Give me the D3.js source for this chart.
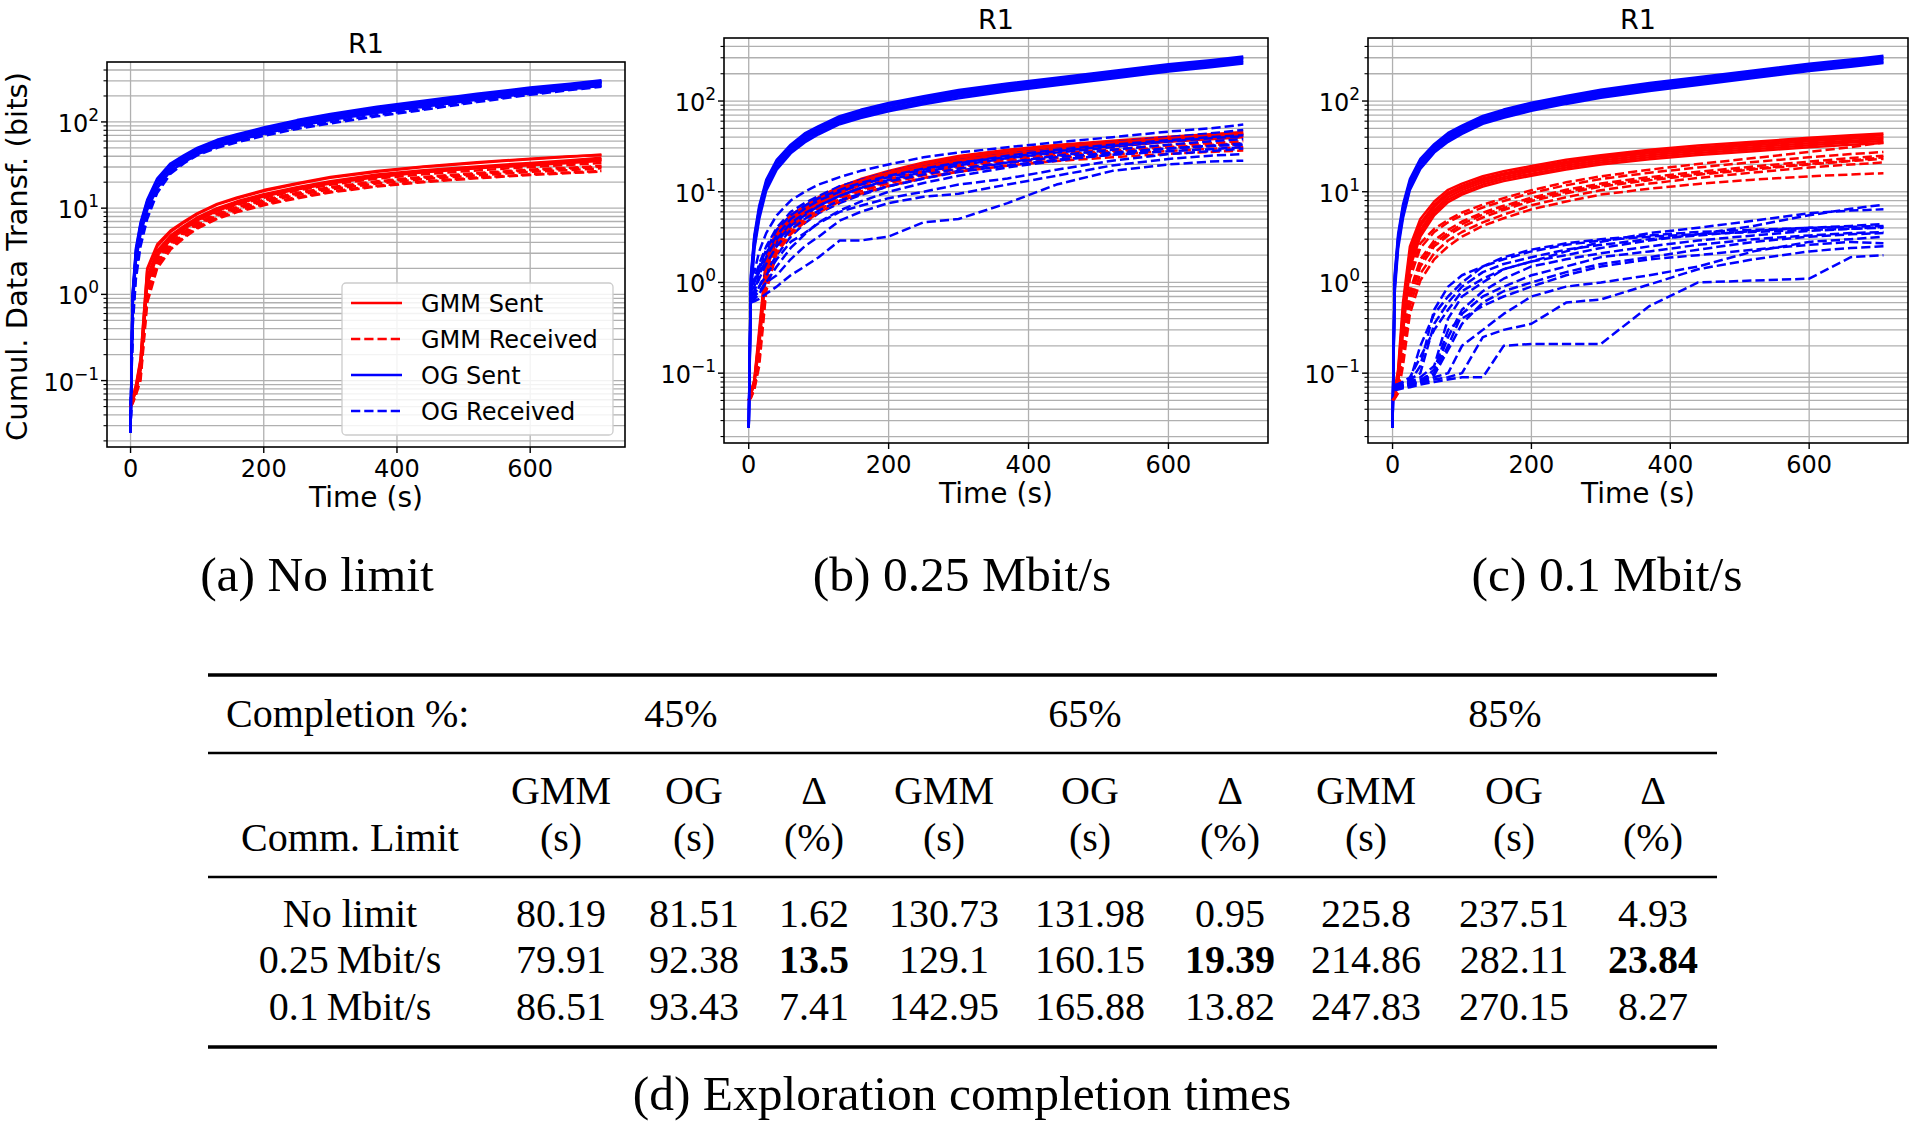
<!DOCTYPE html>
<html>
<head>
<meta charset="utf-8">
<script src="https://cdn.jsdelivr.net/npm/d3@7"></script>
<style>
  body { margin: 0; background: #fff; }
  svg { display: block; }
  .mpl { font-family: "DejaVu Sans", sans-serif; fill: #000; }
  .tex { font-family: "Liberation Serif", "Times New Roman", serif; fill: #000; }
</style>
</head>
<body>
<svg id="fig" width="1920" height="1132"></svg>
<script>
// Shared time grid (s) for every run
const TIME = [0, 3, 8, 15, 25, 40, 60, 80, 100, 130, 160, 200, 250, 300, 370, 440, 520, 600, 660, 707];

// ---- (a) No limit ----
const A_GMM_SENT = [
  [0.05,0.062,0.085,0.17,1.9,3.6,5.3,6.8,8.5,11,13,15.8,19,22.5,26.5,30,33.5,37,39.5,42],
  [0.05,0.06,0.08,0.15,1.6,3.2,4.8,6.2,7.8,10,12,14.5,17.5,20.5,24.5,27.5,30.5,33.5,36,38.5],
  [0.05,0.058,0.075,0.13,1.3,2.8,4.3,5.7,7.2,9.3,11.2,13.6,16.5,19.3,23,26,29,31.5,33.5,35.5],
  [0.05,0.06,0.078,0.14,1.45,3.0,4.6,6.0,7.5,9.7,11.6,14,17,20,23.8,26.8,29.8,32.5,34.8,37],
  [0.05,0.063,0.088,0.18,2.0,3.8,5.5,7.0,8.7,11.2,13.3,16.2,19.5,23,27,30.5,34,37.5,40,41],
  [0.05,0.059,0.077,0.14,1.4,2.9,4.4,5.8,7.3,9.5,11.4,13.8,16.8,19.8,23.3,26.3,29.3,32,34,36.5]
];
const A_GMM_RECV = [
  [0.05,0.058,0.075,0.13,1.2,2.6,4.0,5.3,6.7,8.6,10.3,12.5,15,17.5,20.5,23,25.5,28,29.5,31],
  [0.05,0.056,0.072,0.12,1.0,2.3,3.7,5.0,6.3,8.2,9.8,11.8,14.2,16.5,19.3,21.7,24,26.3,27.7,29],
  [0.05,0.06,0.078,0.14,1.3,2.8,4.3,5.7,7.1,9.1,10.9,13.2,16,18.7,22,24.7,27.4,30,31.7,33.5],
  [0.05,0.055,0.07,0.11,0.9,2.1,3.5,4.7,6.0,7.8,9.3,11.2,13.4,15.6,18.2,20.4,22.6,24.7,26,27],
  [0.05,0.058,0.074,0.13,1.1,2.5,3.9,5.2,6.5,8.4,10.1,12.2,14.7,17.1,20,22.5,25,27.3,28.8,30.2],
  [0.05,0.054,0.068,0.1,0.8,2.0,3.3,4.5,5.8,7.5,9,10.8,13,15.2,17.8,20,22.2,24.2,25.5,26.5]
];
const A_OG_SENT = [
  [0.025,1.0,3.4,6.8,12.5,22,33,41,50,62,72,86,105,124,150,176,212,250,278,305],
  [0.025,0.9,3.0,6.2,11.5,20.5,31,39,47,58,68,82,100,118,143,168,203,240,266,292],
  [0.025,0.8,2.7,5.6,10.5,19,29,36,44,55,64,77,94,110,134,158,190,226,250,272],
  [0.025,0.7,2.4,5.0,9.5,17,27,34,42,52,61,73,89,105,128,150,181,215,240,262],
  [0.025,0.85,2.9,6.0,11,20,30,38,46,57,66,79,96,112,136,160,193,228,254,280],
  [0.025,0.95,3.2,6.5,12,21,32,40,48,60,70,84,102,120,146,172,207,244,272,298]
];
const A_OG_RECV = [
  [0.025,0.6,2.2,5.0,9.5,18,28,36,44,55,64,76,92,108,130,152,185,222,248,270],
  [0.025,0.5,1.8,4.2,8.5,16,26,34,42,52,61,72,86,100,120,142,175,212,240,262],
  [0.025,0.7,2.6,5.8,11,20,30,38,46,57,67,80,97,113,137,162,196,232,258,284],
  [0.025,0.4,1.5,3.6,7.5,15,25,33,41,50,58,69,83,96,116,138,170,206,234,255],
  [0.025,0.8,2.9,6.2,11.5,21,31,39,47,58,68,81,98,116,140,165,199,236,262,290],
  [0.025,0.55,2.0,4.6,9,17,27,35,43,54,63,75,90,106,128,150,183,220,246,268]
];

// ---- (b) 0.25 Mbit/s ----
const B_GMM_SENT = [
  [0.05,0.062,0.085,0.3,1.9,3.8,5.5,7,8.7,11.4,13.8,17,21,24.8,29,32.8,36.5,40.5,43,45.5],
  [0.05,0.06,0.08,0.25,1.6,3.4,5,6.4,8,10.5,12.8,15.8,19.5,23,27,30.5,34,38,40.5,43],
  [0.05,0.058,0.076,0.2,1.35,3.0,4.5,5.9,7.4,9.7,11.9,14.7,18.2,21.5,25.2,28.5,31.8,35.5,37.8,40],
  [0.05,0.06,0.082,0.27,1.75,3.6,5.2,6.7,8.3,10.9,13.2,16.3,20.1,23.7,27.8,31.5,35,39,41.6,44],
  [0.05,0.059,0.078,0.22,1.45,3.2,4.7,6.1,7.7,10.1,12.3,15.2,18.8,22.2,26,29.4,32.8,36.6,39,41.5]
];
const B_GMM_RECV = [
  [0.05,0.057,0.072,0.17,1.2,2.8,4.2,5.5,7,9.2,11.2,13.8,17,20,23.5,26.5,29.5,32.5,34.5,36],
  [0.05,0.055,0.07,0.15,1.0,2.5,3.9,5.2,6.6,8.7,10.6,13,16,18.8,22,24.8,27.5,30.2,32,33.5],
  [0.05,0.056,0.071,0.16,1.1,2.6,4.0,5.3,6.8,8.9,10.8,13.3,16.4,19.3,22.6,25.5,28.3,31,32.8,34.5],
  [0.05,0.054,0.068,0.14,0.9,2.3,3.6,4.9,6.3,8.3,10.1,12.4,15.2,17.8,20.8,23.4,25.8,28.2,29.8,31],
  [0.05,0.053,0.066,0.12,0.8,2.1,3.4,4.6,5.9,7.8,9.5,11.6,14.2,16.6,19.4,21.8,24,26.2,27.5,28.5]
];
const B_OG_SENT = [
  [0.025,1.2,3.3,7,13.5,22.5,33,44,53,68,80,95,113,132,156,181,214,254,282,310],
  [0.025,1.0,2.9,6.2,12.2,20.5,30.5,41,49,63,74,88,105,122,145,168,199,237,263,290],
  [0.025,0.8,2.5,5.4,11,18.5,28,37,45,58,68,80,96,112,133,155,184,219,244,268],
  [0.025,1.1,3.1,6.6,12.8,21.5,32,42.5,51,65.5,77,91,109,127,150,174,206,245,272,300],
  [0.025,0.9,2.7,5.8,11.6,19.5,29,39,47,60.5,71,84,100,117,139,161,191,228,253,278],
  [0.025,0.7,2.3,5.0,10.3,17.5,26.5,35,43,55.5,65,77,92,107,128,149,177,211,236,260]
];
const B_OG_RECV = [
  [null,1.2,1.3,2.2,3.5,5.5,8,10,12,14.5,17,20,24,27,31,35,40,46,50,55],
  [null,0.9,1.1,1.6,2.5,4,6,7.5,9,11.5,13.5,16.5,20,23,27,31,35,40,44,48],
  [null,0.7,0.8,1.2,1.8,2.8,4.2,5.5,7,9,11,13.5,16.5,19.5,23.5,27,31,36,40,43],
  [null,0.65,0.7,0.9,1.3,2,3.2,4.5,5.8,7.5,9.2,11.5,14,17,21,25,29,33,36,38],
  [null,0.8,0.9,1.4,2.1,3.3,5,6.5,8,10,12,14.5,17.5,20.5,25,29,33,37,40,42],
  [null,0.6,0.65,0.75,1.0,1.5,2.4,3.4,4.6,6.2,7.8,10,12.5,15,18.5,22,26,30,32,34],
  [null,1.0,1.05,1.5,2.3,3.8,5.5,7,8.5,10.5,12.5,15,18,21,24,28,32,36,39,41],
  [null,0.7,0.75,0.9,1.2,1.8,2.8,3.5,4.5,6,7,8.5,10,12,14,17.5,22,26,28,30],
  [null,0.65,0.7,0.8,1.0,1.2,1.8,2.5,3.2,4.8,6,7.5,8.8,9.5,12,15,19.5,23,25,26],
  [null,0.6,0.62,0.66,0.75,0.9,1.2,1.5,1.9,2.9,2.9,3.2,4.6,5,7.5,12,17,20,21.5,22],
  [null,0.9,1.0,1.3,1.9,3,4.5,5.8,7,9,11,13,15.5,18,21,24,27,30,32,33],
  [null,0.75,0.8,1.1,1.6,2.5,3.8,5,6.2,8,9.5,11.5,14,16.5,19.5,22.5,25.5,28,29.5,31]
];

// ---- (c) 0.1 Mbit/s ----
const C_GMM_SENT = [
  [0.05,0.065,0.11,0.6,2.5,5.0,7.8,10.5,12.3,14.8,16.8,19.2,22.5,25.3,29,32.3,35.5,39.3,42,44],
  [0.05,0.062,0.1,0.5,2.2,4.5,7.2,9.8,11.6,14,15.9,18.3,21.4,24.2,27.7,30.8,34,37.6,40.2,42],
  [0.05,0.06,0.09,0.45,2.0,4.2,6.8,9.3,11,13.4,15.3,17.5,20.5,23.2,26.5,29.5,32.5,36,38.5,40],
  [0.05,0.058,0.085,0.38,1.8,3.8,6.3,8.7,10.4,12.7,14.5,16.7,19.5,22.1,25.3,28.1,31,34.3,36.6,38.2],
  [0.05,0.056,0.08,0.32,1.6,3.5,5.9,8.2,9.8,12,13.8,15.8,18.5,21,24,26.7,29.5,32.6,34.8,36.2],
  [0.05,0.055,0.077,0.28,1.45,3.2,5.5,7.7,9.3,11.4,13.1,15,17.6,20,22.8,25.4,28,31,33,34.5]
];
const C_GMM_RECV = [
  [0.05,0.056,0.07,0.3,1.1,2.4,3.6,4.6,5.5,6.7,7.9,9.7,11.8,13.8,16.2,18.5,21.3,24,26,27.5],
  [0.05,0.055,0.066,0.22,0.8,1.8,2.9,3.8,4.7,5.9,7,8.6,10.5,12.3,14.5,16.6,19,21.5,23.5,25],
  [0.05,0.054,0.064,0.18,0.65,1.5,2.5,3.3,4.1,5.2,6.3,7.9,9.6,11.4,13.4,15.4,17.6,20,21.8,23],
  [0.05,0.053,0.062,0.15,0.55,1.25,2.1,2.9,3.6,4.6,5.6,7.1,8.7,10.4,12.3,14.2,16.3,18.5,20,21],
  [0.05,0.057,0.072,0.35,1.3,2.7,3.9,4.9,5.9,7.2,8.5,10.4,12.7,14.8,17.5,20.2,23.5,27.5,31,35],
  [0.05,0.052,0.06,0.12,0.45,1.05,1.8,2.5,3.2,4.2,5.1,6.4,7.8,9.3,10.8,12.2,13.6,14.8,15.5,16],
  [0.05,0.054,0.065,0.2,0.72,1.65,2.7,3.5,4.4,5.6,6.6,8.3,10,11.8,13.8,15.8,18,20.3,22,24]
];
const C_OG_SENT = [
  [0.025,1.2,3.4,7.2,13.8,23,33.5,44.5,53.5,68.5,80.5,96,114,133,158,183,217,258,287,315],
  [0.025,1.0,2.95,6.3,12.3,20.7,30.8,41.3,49.5,63.5,74.5,88.5,105.5,123,146,169,200,239,266,293],
  [0.025,0.85,2.6,5.5,11.2,18.8,28.3,37.5,45.5,58.5,68.5,81,97,113,134,156,185,221,246,270],
  [0.025,1.1,3.15,6.7,13,21.8,32.3,43,51.5,66,77.5,92,110,128,151,175,208,247,275,303],
  [0.025,0.92,2.75,5.9,11.8,19.8,29.3,39.3,47.5,61,71.5,85,101,118,140,162,193,230,255,281],
  [0.025,0.75,2.35,5.1,10.5,17.8,27,35.5,43.5,56,65.5,78,93,108.5,129,150,179,214,239,262]
];
const C_OG_RECV = [
  [null,0.075,0.077,0.08,0.085,0.1,0.35,0.6,0.9,1.3,1.6,1.9,2.3,2.6,3.0,3.3,3.7,4.0,4.2,4.4],
  [null,0.07,0.072,0.075,0.08,0.09,0.12,0.4,0.7,1.0,1.4,1.7,2.0,2.4,2.9,3.4,4.2,5.5,6.5,7.2],
  [null,0.068,0.07,0.072,0.078,0.085,0.1,0.25,0.5,0.8,1.1,1.5,1.8,2.1,2.5,2.9,3.3,3.7,3.9,4.1],
  [null,0.072,0.074,0.078,0.082,0.2,0.45,0.7,1.0,1.5,1.8,2.2,2.6,2.9,3.2,3.4,3.6,3.8,3.9,4.0],
  [null,0.066,0.068,0.07,0.074,0.08,0.09,0.1,0.2,0.3,0.45,0.7,0.9,1.0,1.2,1.5,2.2,2.8,3.0,3.2],
  [null,0.07,0.071,0.073,0.076,0.082,0.095,0.18,0.35,0.6,0.8,1.0,1.3,1.6,1.9,2.3,2.8,3.2,3.4,3.5],
  [null,0.065,0.066,0.068,0.07,0.075,0.08,0.085,0.09,0.09,0.2,0.21,0.21,0.21,0.55,1.0,1.05,1.1,1.9,2.0],
  [null,0.074,0.076,0.08,0.09,0.15,0.3,0.5,0.8,1.1,1.4,1.7,2.2,2.8,3.5,4.0,4.8,5.8,6.2,6.4],
  [null,0.068,0.069,0.071,0.075,0.08,0.11,0.3,0.4,0.55,0.7,0.9,1.2,1.5,1.8,2.0,2.3,2.6,2.8,2.7],
  [null,0.067,0.068,0.07,0.072,0.078,0.085,0.09,0.1,0.25,0.3,0.35,0.6,0.65,0.95,1.4,1.8,2.2,2.4,2.5],
  [null,0.071,0.073,0.076,0.08,0.12,0.5,0.9,1.2,1.5,1.9,2.3,2.7,3.0,3.3,3.6,3.8,4.0,4.1,4.2],
  [null,0.069,0.07,0.072,0.076,0.082,0.1,0.2,0.45,0.7,0.9,1.2,1.5,1.9,2.2,2.6,3.0,3.3,3.5,3.6]
];

// ---- axes / labels ----
const X_TICKS = [0, 200, 400, 600];
const Y_EXPONENTS = [-1, 0, 1, 2];
const LEGEND_LABELS = ['GMM Sent', 'GMM Received', 'OG Sent', 'OG Received'];
const PANEL_CAPTIONS = ['(a) No limit', '(b) 0.25 Mbit/s', '(c) 0.1 Mbit/s'];

// ---- table (d) ----
const COMPLETION = ['45%', '65%', '85%'];
const COL_HEAD_1 = ['GMM', 'OG', '\u0394', 'GMM', 'OG', '\u0394', 'GMM', 'OG', '\u0394'];
const COL_HEAD_2 = ['(s)', '(s)', '(%)', '(s)', '(s)', '(%)', '(s)', '(s)', '(%)'];
const ROW_LABELS = ['No limit', '0.25\u2009Mbit/s', '0.1\u2009Mbit/s'];
const ROW_NO_LIMIT = [80.19, 81.51, 1.62, 130.73, 131.98, 0.95, 225.8, 237.51, 4.93];
const ROW_025      = [79.91, 92.38, 13.5, 129.1, 160.15, 19.39, 214.86, 282.11, 23.84];
const ROW_01       = [86.51, 93.43, 7.41, 142.95, 165.88, 13.82, 247.83, 270.15, 8.27];
const BOLD_CELLS = [[1, 2], [1, 5], [1, 8]];

// ---------------------------------------------------------------
const svg = d3.select('#fig');
svg.append('rect').attr('width', 1920).attr('height', 1132).attr('fill', '#fff');

const RED = '#ff0000', BLUE = '#0000ff', GRID = '#b0b0b0';
const LW = 2.5, DASH = '9.25,4';
const X_DOMAIN = [-35.35, 742.35];
const Y_DOMAIN = [Math.pow(10, -1.77), Math.pow(10, 2.695)];

const panels = [
  { box: { x0: 107, x1: 625, y0: 62, y1: 447 }, titleY: 53,
    gs: A_GMM_SENT, gr: A_GMM_RECV, os: A_OG_SENT, or: A_OG_RECV, ylabel: true, legend: true },
  { box: { x0: 724, x1: 1268, y0: 38, y1: 443 }, titleY: 29,
    gs: B_GMM_SENT, gr: B_GMM_RECV, os: B_OG_SENT, or: B_OG_RECV },
  { box: { x0: 1368, x1: 1908, y0: 38, y1: 443 }, titleY: 29,
    gs: C_GMM_SENT, gr: C_GMM_RECV, os: C_OG_SENT, or: C_OG_RECV }
];

// all y grid values: majors and minors (m * 10^k) inside the domain
const yGridVals = [];
for (let k = -2; k <= 2; k++) {
  for (let m = 1; m <= 9; m++) {
    const v = +(m * Math.pow(10, k)).toPrecision(3);
    if (v >= Y_DOMAIN[0] && v <= Y_DOMAIN[1]) yGridVals.push({ v, major: m === 1 });
  }
}

panels.forEach((p, pi) => {
  const b = p.box;
  const x = d3.scaleLinear().domain(X_DOMAIN).range([b.x0, b.x1]);
  const y = d3.scaleLog().domain(Y_DOMAIN).range([b.y1, b.y0]);
  const g = svg.append('g');

  const clipId = `clip-${pi}`;
  g.append('clipPath').attr('id', clipId)
    .append('rect').attr('x', b.x0).attr('y', b.y0)
    .attr('width', b.x1 - b.x0).attr('height', b.y1 - b.y0);

  // grid
  const grid = g.append('g').attr('stroke', GRID).attr('stroke-width', 1.3);
  yGridVals.forEach(d => {
    grid.append('line').attr('x1', b.x0).attr('x2', b.x1)
      .attr('y1', y(d.v)).attr('y2', y(d.v));
  });
  X_TICKS.forEach(t => {
    grid.append('line').attr('x1', x(t)).attr('x2', x(t))
      .attr('y1', b.y0).attr('y2', b.y1);
  });

  // runs, interleaved the way they were plotted
  const line = d3.line()
    .defined(d => d[1] != null)
    .x(d => x(d[0])).y(d => y(d[1]));
  const groups = [
    { runs: p.gs, color: RED, dash: null },
    { runs: p.gr, color: RED, dash: DASH },
    { runs: p.os, color: BLUE, dash: null },
    { runs: p.or, color: BLUE, dash: DASH }
  ];
  const lines = g.append('g').attr('clip-path', `url(#${clipId})`);
  const nMax = d3.max(groups, gr => gr.runs.length);
  for (let r = 0; r < nMax; r++) {
    groups.forEach(gr => {
      const run = gr.runs[r];
      if (!run) return;
      lines.append('path')
        .attr('d', line(TIME.map((t, i) => [t, run[i]])))
        .attr('fill', 'none')
        .attr('stroke', gr.color)
        .attr('stroke-width', LW)
        .attr('stroke-dasharray', gr.dash)
        .attr('stroke-linejoin', 'round');
    });
  }

  // spines
  g.append('rect').attr('x', b.x0).attr('y', b.y0)
    .attr('width', b.x1 - b.x0).attr('height', b.y1 - b.y0)
    .attr('fill', 'none').attr('stroke', '#000').attr('stroke-width', 1.6);

  // ticks
  const ticks = g.append('g').attr('stroke', '#000');
  X_TICKS.forEach(t => {
    ticks.append('line').attr('x1', x(t)).attr('x2', x(t))
      .attr('y1', b.y1).attr('y2', b.y1 + 6).attr('stroke-width', 1.4);
    g.append('text').attr('class', 'mpl')
      .attr('x', x(t)).attr('y', b.y1 + 30)
      .attr('text-anchor', 'middle').attr('font-size', 24)
      .text(t);
  });
  yGridVals.forEach(d => {
    ticks.append('line').attr('x1', b.x0).attr('x2', b.x0 - (d.major ? 6 : 3.5))
      .attr('y1', y(d.v)).attr('y2', y(d.v))
      .attr('stroke-width', d.major ? 1.4 : 1.1);
  });
  Y_EXPONENTS.forEach(e => {
    const t = g.append('text').attr('class', 'mpl')
      .attr('x', b.x0 - 8).attr('y', y(Math.pow(10, e)) + 10)
      .attr('text-anchor', 'end').attr('font-size', 24);
    t.append('tspan').text('10');
    t.append('tspan').attr('dy', -11).attr('font-size', 17)
      .text(e < 0 ? '\u2212' + Math.abs(e) : String(e));
  });

  // title and axis labels
  const cx = (b.x0 + b.x1) / 2;
  g.append('text').attr('class', 'mpl')
    .attr('x', cx).attr('y', p.titleY)
    .attr('text-anchor', 'middle').attr('font-size', 27).text('R1');
  g.append('text').attr('class', 'mpl')
    .attr('x', cx).attr('y', b.y1 + 60)
    .attr('text-anchor', 'middle').attr('font-size', 28).text('Time (s)');
  if (p.ylabel) {
    g.append('text').attr('class', 'mpl')
      .attr('transform', `translate(27,${(b.y0 + b.y1) / 2 + 2}) rotate(-90)`)
      .attr('text-anchor', 'middle').attr('font-size', 29)
      .text('Cumul. Data Transf. (bits)');
  }

  // legend
  if (p.legend) {
    const lg = g.append('g');
    lg.append('rect').attr('x', 342).attr('y', 283)
      .attr('width', 271).attr('height', 152).attr('rx', 4)
      .attr('fill', '#fff').attr('fill-opacity', 0.85)
      .attr('stroke', '#cccccc').attr('stroke-width', 1.3);
    groups.forEach((gr, i) => {
      const ry = 303 + i * 36;
      lg.append('line').attr('x1', 351).attr('x2', 402)
        .attr('y1', ry).attr('y2', ry)
        .attr('stroke', gr.color).attr('stroke-width', LW)
        .attr('stroke-dasharray', gr.dash);
      lg.append('text').attr('class', 'mpl')
        .attr('x', 421).attr('y', ry + 8.5)
        .attr('font-size', 24).text(LEGEND_LABELS[i]);
    });
  }
});

// subfigure captions
const CAPTION_X = [317, 962, 1607];
PANEL_CAPTIONS.forEach((c, i) => {
  svg.append('text').attr('class', 'tex')
    .attr('x', CAPTION_X[i]).attr('y', 591)
    .attr('text-anchor', 'middle').attr('font-size', 49.5).text(c);
});

// ---- table (d) ----
const T_X0 = 208, T_X1 = 1717;
const COL_X = [561, 694, 814, 944, 1090, 1230, 1366, 1514, 1653];
const GROUP_X = [681, 1085, 1505];
const LABEL_X = 350;
const tbl = svg.append('g');
[[675, 3.6], [753, 2.3], [877, 2.3], [1047, 3.6]].forEach(([ry, w]) => {
  tbl.append('line').attr('x1', T_X0).attr('x2', T_X1)
    .attr('y1', ry).attr('y2', ry)
    .attr('stroke', '#000').attr('stroke-width', w);
});
const tText = (tx, ty, s, anchor, bold) => tbl.append('text').attr('class', 'tex')
  .attr('x', tx).attr('y', ty).attr('font-size', 40)
  .attr('text-anchor', anchor || 'middle')
  .attr('font-weight', bold ? 'bold' : 'normal').text(s);

tText(226, 727, 'Completion %:', 'start');
COMPLETION.forEach((c, i) => tText(GROUP_X[i], 727, c));
COL_HEAD_1.forEach((h, i) => tText(COL_X[i], 804, h));
COL_HEAD_2.forEach((h, i) => tText(COL_X[i], 851, h));
tText(LABEL_X, 851, 'Comm. Limit');

const ROW_Y = [927, 973, 1020];
[ROW_NO_LIMIT, ROW_025, ROW_01].forEach((row, ri) => {
  tText(LABEL_X, ROW_Y[ri], ROW_LABELS[ri]);
  row.forEach((v, ci) => {
    const bold = BOLD_CELLS.some(([r, c]) => r === ri && c === ci);
    tText(COL_X[ci], ROW_Y[ri], String(v), 'middle', bold);
  });
});

svg.append('text').attr('class', 'tex')
  .attr('x', 962).attr('y', 1110)
  .attr('text-anchor', 'middle').attr('font-size', 49.5)
  .text('(d) Exploration completion times');
</script>
</body>
</html>
